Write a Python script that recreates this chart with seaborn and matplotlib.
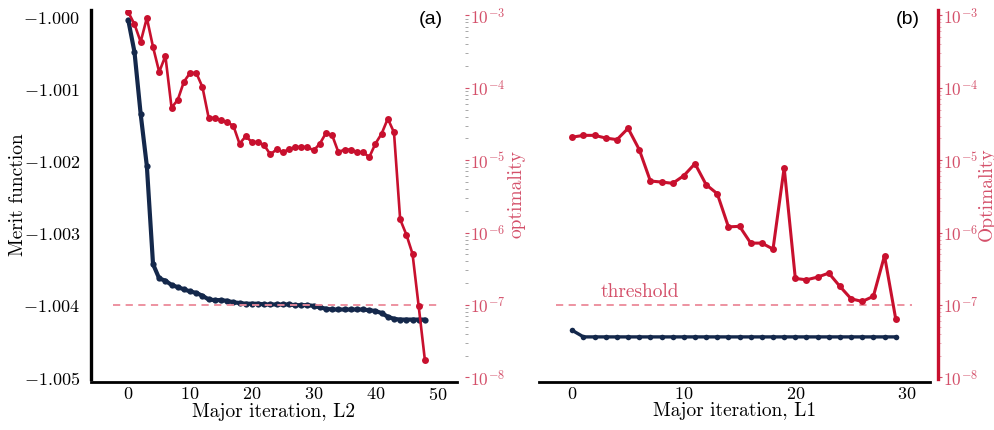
import matplotlib
matplotlib.use("Agg")
import matplotlib.pyplot as plt
import numpy as np
import pandas as pd
import seaborn as sns
from matplotlib.ticker import FuncFormatter, FixedLocator, LogLocator, NullFormatter

# ---------------- data ----------------
iter_l2 = list(range(49))
merit_l2 = [-1.00004, -1.00048, -1.00134, -1.00206, -1.00342, -1.00362, -1.00365, -1.00371,
            -1.00374, -1.00377, -1.00380, -1.00382, -1.00386, -1.00391, -1.00392, -1.00392,
            -1.00393, -1.00395, -1.00396, -1.00397, -1.00397, -1.00397, -1.00398, -1.00398,
            -1.00398, -1.00398, -1.00398, -1.00399, -1.00399, -1.00399, -1.00400, -1.00402,
            -1.00404, -1.00405, -1.00405, -1.00405, -1.00405, -1.00405, -1.00405, -1.00406,
            -1.00407, -1.00410, -1.00415, -1.00418, -1.00419, -1.00419, -1.00419, -1.00419,
            -1.00419]
opt_l2 = [1.10e-3, 7.5e-4, 4.3e-4, 9.2e-4, 3.65e-4, 1.65e-4, 2.74e-4, 5.3e-5, 6.8e-5,
          1.21e-4, 1.6e-4, 1.6e-4, 1.02e-4, 3.86e-5, 3.82e-5, 3.55e-5, 3.33e-5, 2.99e-5,
          1.69e-5, 2.13e-5, 1.78e-5, 1.78e-5, 1.6e-5, 1.2e-5, 1.41e-5, 1.29e-5, 1.41e-5,
          1.52e-5, 1.52e-5, 1.52e-5, 1.36e-5, 1.69e-5, 2.37e-5, 2.2e-5, 1.29e-5, 1.4e-5,
          1.4e-5, 1.29e-5, 1.29e-5, 1.1e-5, 1.69e-5, 2.32e-5, 3.74e-5, 2.42e-5, 1.52e-6,
          9.4e-7, 5.1e-7, 9.6e-8, 1.75e-8]

iter_l1 = list(range(30))
merit_l1 = [-1.00434] + [-1.00443] * 29
opt_l1 = [2.08e-5, 2.2e-5, 2.2e-5, 2.02e-5, 1.92e-5, 2.75e-5, 1.4e-5, 5.15e-6, 4.99e-6,
          4.79e-6, 6.11e-6, 8.95e-6, 4.59e-6, 3.44e-6, 1.2e-6, 1.22e-6, 7.16e-7, 7.16e-7,
          5.92e-7, 7.87e-6, 2.33e-7, 2.23e-7, 2.43e-7, 2.76e-7, 1.81e-7, 1.22e-7, 1.12e-7,
          1.32e-7, 4.8e-7, 6.5e-8]

threshold = 1e-7
merit_ticks = [-1.000, -1.001, -1.002, -1.003, -1.004, -1.005]
opt_ticks = [1e-3, 1e-4, 1e-5, 1e-6, 1e-7, 1e-8]
x_ticks_l2 = [0, 10, 20, 30, 40, 50]
x_ticks_l1 = [0, 10, 20, 30]

df_l2 = pd.DataFrame({"iter": iter_l2, "merit": merit_l2, "opt": opt_l2})
df_l1 = pd.DataFrame({"iter": iter_l1, "merit": merit_l1, "opt": opt_l1})

# ---------------- style ----------------
sns.set_theme(style="white")
plt.rcParams["font.family"] = ["serif"]
plt.rcParams["font.serif"] = ["cmr10", "DejaVu Serif"]
plt.rcParams["mathtext.fontset"] = "cm"
plt.rcParams["axes.unicode_minus"] = False

NAVY = "#14284b"
RED = "#c8102e"
LRED = "#d4506a"
PINK = "#ec8a9a"
FS = 13
LFS = 14

fig = plt.figure(figsize=(9.95, 4.30), dpi=100)
W, H = 995.0, 430.0
top_px, bot_px = 10, 379


def make_axes(l, r):
    return fig.add_axes([l / W, 1 - bot_px / H, (r - l) / W, (bot_px - top_px) / H])


merit_fmt = FuncFormatter(lambda v, p: r"$%.3f$" % v)
log_fmt = FuncFormatter(lambda v, p: r"$10^{%d}$" % int(round(np.log10(v))))
ylim_merit = (-1.005014, -0.999896)
ylim_opt = (10 ** -8.021, 10 ** -2.927)


def style_twin(tw, minor_color, spine_visible):
    tw.set_yscale("log")
    tw.set_ylim(*ylim_opt)
    tw.yaxis.set_major_locator(FixedLocator(opt_ticks))
    tw.yaxis.set_major_formatter(log_fmt)
    tw.yaxis.set_minor_locator(LogLocator(base=10, subs=np.arange(2, 10)))
    tw.yaxis.set_minor_formatter(NullFormatter())
    for s in ["top", "left", "bottom"]:
        tw.spines[s].set_visible(False)
    tw.spines["right"].set_position(("outward", 6))
    tw.spines["right"].set_visible(spine_visible)
    tw.spines["right"].set_color(RED)
    tw.spines["right"].set_linewidth(2.4)
    tw.tick_params(axis="y", which="major", length=3, width=0.8, color=LRED,
                   labelcolor=LRED, labelsize=12.5, pad=0.5)
    tw.tick_params(axis="y", which="minor", length=2, width=0.6, color=minor_color)
    tw.grid(False)


# ---------------- panel (a) ----------------
ax1 = make_axes(91, 457)
sns.lineplot(data=df_l2, x="iter", y="merit", ax=ax1, color=NAVY, linewidth=3.0,
             marker="o", markersize=4.5, markeredgewidth=0)
ax1.set_ylim(*ylim_merit)
ax1.set_xlim(-6.04, 53.2)
ax1.yaxis.set_major_locator(FixedLocator(merit_ticks))
ax1.yaxis.set_major_formatter(merit_fmt)
ax1.xaxis.set_major_locator(FixedLocator(x_ticks_l2))
ax1.xaxis.set_major_formatter(FuncFormatter(lambda v, p: r"$%d$" % v))
for s in ["top", "right"]:
    ax1.spines[s].set_visible(False)
ax1.spines["left"].set_linewidth(2.4)
ax1.spines["left"].set_color("black")
ax1.spines["bottom"].set_linewidth(2.0)
ax1.spines["bottom"].set_color("black")
ax1.spines["bottom"].set_position(("outward", 2))
ax1.tick_params(axis="y", length=0, labelsize=FS, pad=8, labelcolor="black")
ax1.tick_params(axis="x", length=0, labelsize=FS, pad=3, labelcolor="black")
ax1.set_xlabel("Major iteration, L2", fontsize=LFS, color="black", labelpad=0)
ax1.set_ylabel("Merit function", fontsize=LFS, color="black")
ax1.yaxis.set_label_coords(-0.175, 0.5)
ax1.grid(False)

tw1 = ax1.twinx()
span = iter_l2[-1] - iter_l2[0]
tw1.hlines(threshold, iter_l2[0] - 0.05 * span, iter_l2[-1] + 0.05 * span,
           colors=PINK, linestyles=(0, (4, 3)), linewidth=1.3)
sns.lineplot(data=df_l2, x="iter", y="opt", ax=tw1, color=RED, linewidth=1.9,
             marker="o", markersize=5, markeredgewidth=0)
style_twin(tw1, "#9a9a9a", False)
tw1.set_ylabel("optimality", fontsize=LFS, color=LRED)
tw1.yaxis.set_label_coords(1.139, 0.5)
tw1.set_xlabel("")
ax1.text(0.929, 0.974, "(a)", transform=ax1.transAxes, fontsize=14,
         family=["Liberation Sans", "DejaVu Sans"], ha="center", va="center", color="black")

# ---------------- panel (b) ----------------
ax2 = make_axes(539, 930)
sns.lineplot(data=df_l1, x="iter", y="merit", ax=ax2, color=NAVY, linewidth=2.4,
             marker="o", markersize=4.0, markeredgewidth=0)
ax2.set_ylim(*ylim_merit)
ax2.set_xlim(-2.99, 32.08)
ax2.xaxis.set_major_locator(FixedLocator(x_ticks_l1))
ax2.xaxis.set_major_formatter(FuncFormatter(lambda v, p: r"$%d$" % v))
for s in ["top", "right", "left"]:
    ax2.spines[s].set_visible(False)
ax2.spines["bottom"].set_linewidth(2.0)
ax2.spines["bottom"].set_color("black")
ax2.spines["bottom"].set_position(("outward", 2))
ax2.set_yticks([])
ax2.set_ylabel("")
ax2.tick_params(axis="x", length=0, labelsize=FS, pad=3, labelcolor="black")
ax2.set_xlabel("Major iteration, L1", fontsize=LFS, color="black", labelpad=0)
ax2.grid(False)

tw2 = ax2.twinx()
span = iter_l1[-1] - iter_l1[0]
tw2.hlines(threshold, iter_l1[0] - 0.05 * span, iter_l1[-1] + 0.05 * span,
           colors=PINK, linestyles=(0, (4, 3)), linewidth=1.3)
sns.lineplot(data=df_l1, x="iter", y="opt", ax=tw2, color=RED, linewidth=2.2,
             marker="o", markersize=5, markeredgewidth=0)
style_twin(tw2, "#e9a3b0", True)
tw2.set_ylabel("Optimality", fontsize=LFS, color=LRED)
tw2.yaxis.set_label_coords(1.123, 0.5)
tw2.set_xlabel("")
tw2.text(2.5, threshold * 1.13, "threshold", fontsize=FS + 1, color=LRED,
         ha="left", va="bottom")
ax2.text(0.944, 0.974, "(b)", transform=ax2.transAxes, fontsize=14,
         family=["Liberation Sans", "DejaVu Sans"], ha="center", va="center", color="black")

fig.savefig("out.png", dpi=100)
